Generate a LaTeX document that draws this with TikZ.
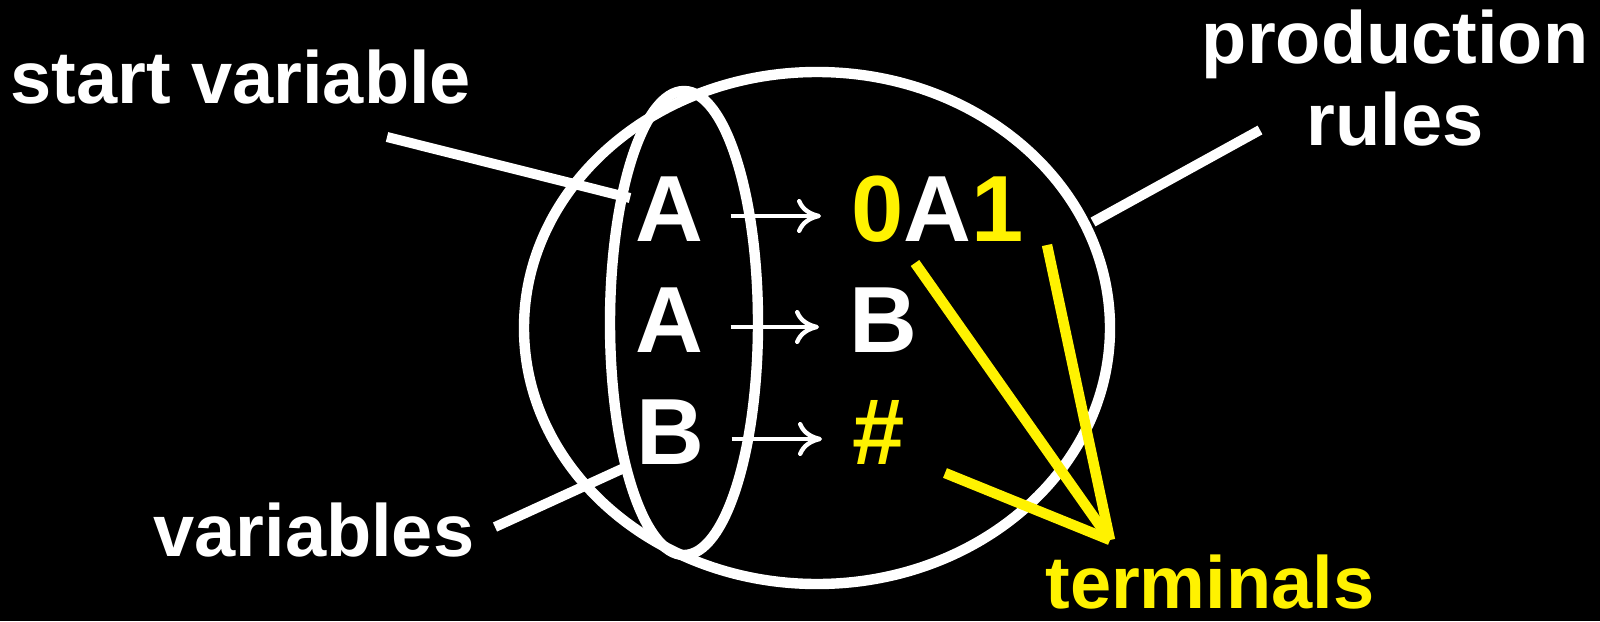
\documentclass[tikz,border=0pt]{standalone}
\usepackage{fontspec}
\setmainfont{Liberation Sans}
\usetikzlibrary{positioning,arrows.meta,shapes.geometric}

\begin{document}
\begin{tikzpicture}[
  x=0.5pt, y=-0.5pt,
  tag/.style={white, font=\fontsize{37}{44}\selectfont\bfseries, inner sep=0pt, anchor=base west},
  sym/.style={white, font=\fontsize{47}{56}\selectfont\bfseries, inner sep=0pt, anchor=base west,
              text height=25pt, text depth=0pt},
  ring/.style={draw=white, line width=5.2pt, ellipse, inner sep=0pt},
  pointer/.style={white, line width=5pt},
  yline/.style={yellow, line width=5.2pt},
  derive/.style={white, line width=2.2pt, -{To[length=12pt,width=17pt]},
                 shorten <=13.5pt, shorten >=15pt},
]
% ---- canvas ----
\fill[black] (0,0) rectangle (1600,621);
\useasboundingbox (0,0) rectangle (1600,621);

% ---- the two sets ----
\node[ring, minimum width=293pt, minimum height=256pt] (prodset) at (817,328) {};
\node[ring, minimum width=74pt, minimum height=232pt] (varset) at (684,323) {};

% ---- rules ----
\node[sym] (lhsA) at (635,241) {A};
\node[sym] (lhsB) at (635,352) {A};
\node[sym] (lhsC) at (636,464) {B};
\node[sym] (rhsA) at (851,241) {\textcolor{yellow}{0}A\textcolor{yellow}{1}};
\node[sym] (rhsB) at (849,352) {B};
\node[sym, yellow] (rhsC) at (852,464) {\#};

\draw[derive] (lhsA.east) -- (rhsA.west);
\draw[derive] (lhsB.east) -- (rhsB.west);
\draw[derive] (lhsC.east) -- (rhsC.west);

% ---- labels ----
\node[tag] (startvar) at (10,103) {start variable};
\node[tag, anchor=base] (prod) at (1395,63) {production};
\node[tag, anchor=base] (rules) at (1395,145) {rules};
\node[tag] (vars) at (153,556) {variables};
\node[tag, yellow] (terms) at (1045,608) {terminals};

% ---- pointers ----
\coordinate (startfoot) at (387,137);
\coordinate (startend) at (630,198);
\coordinate (prodfoot) at (1260,130);
\coordinate (prodend) at (1093,222);
\coordinate (varsfoot) at (495,527);
\coordinate (varsend) at (624,468);
\draw[pointer] (startfoot) -- (startend);
\draw[pointer] (prodfoot) -- (prodend);
\draw[pointer] (varsfoot) -- (varsend);

\coordinate (fromA) at (915,263);
\coordinate (fromOne) at (1047,245);
\coordinate (fromHash) at (945,473);
\coordinate (termtip) at (1110,540);
\draw[yline] (fromA) -- (termtip);
\draw[yline] (fromOne) -- (termtip);
\draw[yline] (fromHash) -- (termtip);
\end{tikzpicture}
\end{document}
